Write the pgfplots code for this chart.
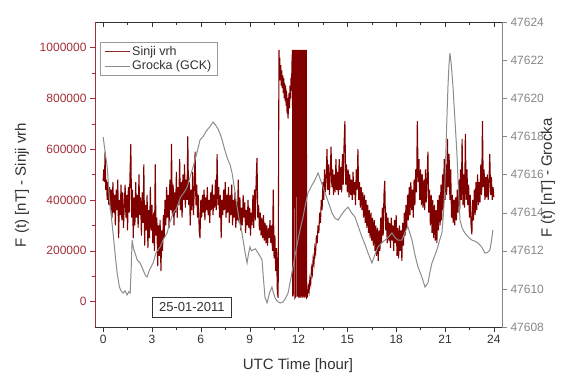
\documentclass[border=0pt]{standalone}
\usepackage{fontspec}
\setmainfont{Liberation Sans}
\usepackage{pgfplots}
\pgfplotsset{compat=1.18}
\definecolor{wine}{RGB}{128,0,0}
\definecolor{winelab}{RGB}{165,45,55}
\definecolor{gcol}{RGB}{140,140,140}
\definecolor{glab}{RGB}{135,135,135}
\definecolor{txt}{RGB}{50,50,50}
\begin{document}
\begin{tikzpicture}
\path[use as bounding box] (0,0) rectangle (566pt,373pt);
% top frame line
\begin{axis}[
  at={(95pt,46pt)}, anchor=south west, scale only axis, width=407pt, height=305pt,
  xmin=-0.5, xmax=24.5, ymin=0, ymax=1,
  axis x line*=top, axis y line=none,
  xtick={0,3,...,24}, minor x tick num=1, xticklabels={},
  tick align=inside, major tick length=5pt, minor tick length=3pt,
  x axis line style={-, txt}, xtick style={txt},
]
\end{axis}
% left axis: Sinji vrh
\begin{axis}[
  at={(95pt,46pt)}, anchor=south west, scale only axis, width=407pt, height=305pt,
  xmin=-0.5, xmax=24.5, ymin=-100000, ymax=1100000,
  axis x line*=bottom, axis y line*=left,
  xtick={0,3,...,24}, minor x tick num=1,
  ytick={0,200000,...,1000000}, minor y tick num=1,
  scaled y ticks=false,
  tick align=outside, major tick length=5pt, minor tick length=3pt,
  x axis line style={-, txt}, y axis line style={-, winelab},
  xtick style={txt}, ytick style={winelab},
  /pgf/number format/.cd, 1000 sep={}, fixed, assume math mode=true,
  /pgfplots/.cd,
  xticklabel style={text=txt, font=\fontsize{12}{14}\selectfont},
  yticklabel style={text=winelab, font=\fontsize{12}{14}\selectfont},
  xlabel={UTC Time [hour]},
  xlabel style={at={(axis description cs:0.4988,-0.1279)}, anchor=center, text=txt, font=\fontsize{15}{18}\selectfont},
  ylabel={F (t) [nT] - Sinji vrh},
  ylabel style={at={(axis description cs:-0.1794,0.4656)}, anchor=center, text=txt, font=\fontsize{15}{18}\selectfont},
]
\addplot[wine, line width=1.1pt] table[row sep=\\, x index=0, y expr=\thisrowno{1}*1000] {
0.00 475\\ 0.04 520\\ 0.08 470\\ 0.12 590\\ 0.16 440\\ 0.20 480\\
0.25 400\\ 0.30 470\\ 0.35 380\\ 0.40 450\\ 0.45 360\\ 0.50 440\\ 0.55 330\\ 0.60 470\\ 0.65 350\\ 0.70 420\\ 0.75 300\\ 0.80 440\\ 0.85 360\\ 0.90 480\\ 0.95 250\\ 1.00 400\\
1.05 340\\ 1.10 460\\ 1.15 320\\ 1.20 430\\ 1.25 290\\ 1.30 380\\ 1.35 460\\ 1.40 330\\ 1.45 420\\ 1.50 280\\ 1.55 450\\ 1.60 350\\ 1.65 500\\ 1.70 620\\ 1.75 330\\ 1.80 440\\ 1.85 250\\ 1.90 410\\
1.95 300\\ 2.00 470\\ 2.05 330\\ 2.10 420\\ 2.15 290\\ 2.20 500\\ 2.25 340\\ 2.30 410\\ 2.35 260\\ 2.40 430\\ 2.45 310\\ 2.50 540\\ 2.55 220\\ 2.60 380\\
2.65 280\\ 2.70 420\\ 2.75 210\\ 2.80 360\\ 2.85 250\\ 2.90 450\\ 2.95 280\\ 3.00 380\\ 3.05 230\\ 3.10 350\\ 3.15 200\\ 3.20 540\\ 3.25 260\\ 3.30 330\\ 3.35 140\\ 3.40 300\\ 3.45 180\\ 3.50 320\\ 3.55 120\\ 3.60 280\\ 3.65 200\\
3.70 340\\ 3.75 250\\ 3.80 400\\ 3.85 300\\ 3.90 450\\ 3.95 330\\ 4.00 420\\ 4.05 290\\ 4.10 480\\ 4.15 360\\ 4.20 620\\ 4.25 340\\ 4.30 460\\ 4.35 300\\ 4.40 430\\ 4.45 350\\ 4.50 510\\ 4.55 330\\ 4.60 450\\ 4.65 380\\ 4.70 560\\ 4.75 360\\ 4.80 470\\ 4.85 330\\ 4.90 500\\ 4.95 400\\ 5.00 540\\ 5.05 370\\ 5.10 480\\ 5.15 400\\ 5.20 650\\ 5.25 380\\ 5.30 470\\ 5.35 300\\ 5.40 440\\ 5.45 360\\ 5.50 510\\ 5.55 340\\ 5.60 450\\
5.65 590\\ 5.70 380\\ 5.75 460\\ 5.80 330\\ 5.85 420\\ 5.90 280\\ 5.95 250\\ 6.00 400\\
6.05 330\\ 6.10 420\\ 6.15 350\\ 6.20 440\\ 6.25 320\\ 6.30 410\\ 6.35 360\\ 6.40 450\\ 6.45 340\\ 6.50 400\\ 6.55 310\\ 6.60 430\\ 6.65 360\\ 6.70 460\\ 6.75 340\\ 6.80 420\\ 6.85 370\\ 6.90 480\\ 6.95 360\\ 7.00 580\\ 7.05 380\\ 7.10 450\\ 7.15 330\\ 7.20 420\\ 7.25 250\\ 7.30 400\\ 7.35 340\\ 7.40 440\\ 7.45 360\\ 7.50 470\\ 7.55 330\\ 7.60 420\\ 7.65 350\\ 7.70 450\\
7.75 310\\ 7.80 420\\ 7.85 340\\ 7.90 460\\ 7.95 300\\ 8.00 400\\ 8.05 330\\ 8.10 430\\ 8.15 290\\ 8.20 390\\ 8.25 320\\ 8.30 480\\ 8.35 310\\ 8.40 410\\ 8.45 280\\ 8.50 370\\ 8.55 300\\ 8.60 420\\ 8.65 330\\ 8.70 390\\ 8.75 270\\ 8.80 360\\ 8.85 300\\ 8.90 400\\ 8.95 290\\ 9.00 370\\ 9.05 260\\ 9.10 350\\ 9.15 300\\ 9.20 420\\ 9.25 290\\ 9.30 440\\ 9.35 320\\ 9.40 480\\ 9.45 565\\ 9.50 330\\
9.55 380\\ 9.60 280\\ 9.65 350\\ 9.70 260\\ 9.75 330\\ 9.80 250\\ 9.85 340\\ 9.90 240\\ 9.95 310\\ 10.00 230\\ 10.05 300\\ 10.10 220\\ 10.15 290\\ 10.20 250\\ 10.25 320\\ 10.30 230\\ 10.35 300\\ 10.40 200\\ 10.45 440\\ 10.50 170\\ 10.55 260\\ 10.60 120\\ 10.65 210\\ 10.70 40\\ 10.75 15\\
10.80 990\\ 10.82 900\\ 10.85 960\\ 10.88 870\\ 10.91 930\\ 10.94 850\\ 10.97 910\\ 11.00 840\\ 11.03 890\\ 11.06 820\\ 11.09 880\\ 11.12 800\\ 11.15 860\\ 11.18 790\\ 11.21 850\\ 11.24 770\\ 11.27 830\\ 11.30 740\\ 11.33 800\\ 11.36 720\\ 11.39 790\\ 11.42 820\\ 11.45 760\\ 11.48 850\\ 11.51 800\\ 11.54 880\\ 11.57 830\\ 11.60 940\\
11.63 990\\ 11.65 20\\ 11.68 30\\ 11.70 990\\ 11.73 900\\ 11.76 990\\ 11.78 15\\ 11.82 20\\ 11.84 990\\ 11.87 950\\ 11.90 990\\ 11.92 20\\ 11.95 990\\ 11.98 20\\ 12.00 990\\ 12.03 15\\ 12.06 990\\ 12.09 20\\ 12.12 990\\ 12.15 15\\ 12.18 990\\ 12.21 20\\ 12.24 990\\ 12.27 15\\ 12.30 990\\ 12.33 20\\ 12.36 990\\ 12.39 15\\ 12.42 990\\ 12.45 20\\ 12.48 990\\ 12.50 15\\ 12.55 20\\
12.60 60\\ 12.65 40\\ 12.70 90\\ 12.75 70\\ 12.80 130\\ 12.85 110\\ 12.90 170\\ 12.95 150\\ 13.00 210\\ 13.05 190\\ 13.10 260\\ 13.15 230\\ 13.20 300\\ 13.25 270\\ 13.30 350\\ 13.35 310\\ 13.40 400\\ 13.45 360\\ 13.50 470\\ 13.55 400\\ 13.60 520\\ 13.65 430\\ 13.70 480\\ 13.75 600\\ 13.80 440\\ 13.85 540\\ 13.90 420\\ 13.95 500\\ 14.00 610\\ 14.05 450\\ 14.10 520\\ 14.15 420\\ 14.20 500\\ 14.25 430\\ 14.30 560\\ 14.35 440\\ 14.40 510\\ 14.45 420\\ 14.50 560\\ 14.55 440\\ 14.60 530\\ 14.65 430\\ 14.70 580\\ 14.75 460\\ 14.80 620\\ 14.85 710\\ 14.90 460\\ 14.95 540\\ 15.00 430\\ 15.05 520\\ 15.10 410\\ 15.15 500\\ 15.20 420\\ 15.25 480\\ 15.30 400\\ 15.35 510\\ 15.40 420\\ 15.45 470\\ 15.50 380\\ 15.55 520\\ 15.60 440\\ 15.65 600\\ 15.70 400\\ 15.75 470\\ 15.80 370\\ 15.85 450\\ 15.90 360\\
15.95 430\\ 16.00 330\\ 16.05 420\\ 16.10 310\\ 16.15 400\\ 16.20 290\\ 16.25 380\\ 16.30 270\\ 16.35 360\\ 16.40 250\\ 16.45 350\\ 16.50 240\\ 16.55 330\\ 16.60 220\\ 16.65 320\\ 16.70 200\\ 16.75 300\\ 16.80 180\\ 16.85 290\\ 16.90 160\\ 16.95 280\\ 17.00 200\\ 17.05 330\\ 17.10 230\\ 17.15 370\\ 17.20 260\\ 17.25 420\\ 17.30 475\\ 17.35 280\\ 17.40 350\\ 17.45 230\\ 17.50 330\\ 17.55 240\\ 17.60 310\\ 17.65 210\\ 17.70 330\\ 17.75 240\\ 17.80 300\\ 17.85 200\\ 17.90 320\\ 17.95 230\\ 18.00 340\\ 18.05 180\\ 18.10 290\\ 18.15 170\\ 18.20 300\\ 18.25 200\\ 18.30 280\\ 18.35 160\\ 18.40 310\\ 18.45 220\\ 18.50 350\\
18.55 260\\ 18.60 380\\ 18.65 290\\ 18.70 420\\ 18.75 320\\ 18.80 450\\ 18.85 340\\ 18.90 470\\ 18.95 360\\ 19.00 440\\ 19.05 330\\ 19.10 480\\ 19.15 380\\ 19.20 520\\ 19.25 430\\ 19.30 710\\ 19.35 470\\
19.40 560\\ 19.45 400\\ 19.50 520\\ 19.55 380\\ 19.60 500\\ 19.65 370\\ 19.70 480\\ 19.75 360\\ 19.80 520\\ 19.85 390\\ 19.90 480\\ 19.95 590\\ 20.00 350\\
20.05 440\\ 20.10 300\\ 20.15 420\\ 20.20 270\\ 20.25 400\\ 20.30 250\\ 20.35 380\\ 20.40 240\\ 20.45 360\\ 20.50 230\\ 20.55 400\\ 20.60 280\\ 20.65 420\\ 20.70 300\\ 20.75 460\\ 20.80 320\\ 20.85 500\\ 20.90 360\\
20.95 560\\ 21.00 400\\ 21.05 540\\ 21.10 420\\ 21.15 640\\ 21.20 450\\ 21.25 580\\ 21.30 400\\ 21.35 520\\
21.40 330\\ 21.45 420\\ 21.50 310\\ 21.55 400\\ 21.60 300\\ 21.65 410\\ 21.70 320\\ 21.75 440\\ 21.80 350\\
21.85 480\\ 21.90 360\\ 21.95 520\\ 22.00 400\\ 22.05 640\\ 22.10 380\\ 22.15 500\\ 22.20 370\\ 22.25 660\\ 22.30 400\\ 22.35 520\\ 22.40 380\\
22.45 460\\ 22.50 330\\ 22.55 420\\ 22.60 300\\ 22.65 265\\ 22.70 400\\ 22.75 320\\ 22.80 440\\ 22.85 340\\ 22.90 470\\ 22.95 360\\
23.00 500\\ 23.05 380\\ 23.10 470\\ 23.15 390\\ 23.20 540\\ 23.25 420\\ 23.30 710\\ 23.35 450\\ 23.40 520\\ 23.45 400\\ 23.50 490\\ 23.55 410\\ 23.60 500\\ 23.65 400\\ 23.70 470\\ 23.75 580\\ 23.80 420\\ 23.85 490\\ 23.90 400\\ 23.95 450\\ 24.00 410\\
};
\end{axis}
% right axis: Grocka
\begin{axis}[
  at={(95pt,46pt)}, anchor=south west, scale only axis, width=407pt, height=305pt,
  xmin=-0.5, xmax=24.5, ymin=47608, ymax=47624,
  axis x line=none, axis y line*=right,
  ytick={47608,47610,...,47624}, minor y tick num=1,
  scaled y ticks=false,
  tick align=outside, major tick length=5pt, minor tick length=3pt,
  y axis line style={-, glab}, ytick style={glab},
  /pgf/number format/.cd, 1000 sep={}, fixed, assume math mode=true,
  /pgfplots/.cd,
  yticklabel style={text=glab, font=\fontsize{12}{14}\selectfont},
  ylabel={F (t) [nT] - Grocka},
  ylabel style={at={(axis description cs:1.113,0.4885)}, anchor=center, text=txt, font=\fontsize{15}{18}\selectfont},
  legend style={draw=gray!80, at={(axis description cs:0.0123,0.934)}, anchor=north west,
    font=\fontsize{12.5}{15}\selectfont, nodes={font=\fontsize{12.5}{15}\selectfont},
    inner xsep=4pt, inner ysep=2pt, row sep=0pt, text=txt},
  legend cell align=left,
  legend image code/.code={\draw[#1] (0pt,0pt) -- (25pt,0pt);},
]
\addlegendimage{wine!85!white, line width=1pt}
\addlegendentry{Sinji vrh}
\addplot[gcol, line width=1pt] table[row sep=\\] {
0.00 47617.97\\ 0.12 47617.2\\ 0.25 47616.39\\ 0.40 47614.6\\ 0.61 47612.93\\ 0.75 47611.7\\ 0.86 47610.83\\ 1.00 47610.1\\ 1.10 47609.9\\ 1.23 47609.78\\ 1.35 47609.9\\ 1.47 47609.68\\ 1.58 47609.85\\ 1.66 47609.78\\ 1.72 47611.0\\ 1.78 47612.56\\ 1.87 47612.1\\ 1.96 47611.88\\ 2.10 47611.5\\ 2.27 47611.36\\ 2.45 47611.0\\ 2.60 47610.7\\ 2.70 47610.62\\ 2.85 47611.0\\ 3.07 47611.36\\ 3.25 47611.9\\ 3.50 47612.20\\ 3.70 47612.6\\ 3.93 47612.93\\ 4.10 47613.5\\ 4.30 47613.98\\ 4.50 47614.2\\ 4.75 47614.8\\ 5.00 47615.1\\ 5.16 47615.34\\ 5.35 47615.9\\ 5.52 47616.39\\ 5.75 47617.1\\ 5.95 47617.81\\ 6.15 47618.0\\ 6.35 47618.3\\ 6.55 47618.5\\ 6.75 47618.75\\ 6.90 47618.6\\ 7.05 47618.4\\ 7.20 47618.1\\ 7.31 47617.81\\ 7.50 47617.2\\ 7.67 47616.76\\ 7.80 47616.5\\ 7.92 47616.08\\ 8.08 47615.2\\ 8.23 47614.29\\ 8.38 47613.5\\ 8.53 47612.93\\ 8.70 47612.0\\ 8.84 47611.36\\ 8.92 47611.8\\ 9.02 47612.20\\ 9.10 47612.0\\ 9.21 47612.04\\ 9.35 47612.1\\ 9.52 47611.88\\ 9.65 47611.7\\ 9.76 47611.51\\ 9.85 47610.5\\ 9.94 47609.57\\ 10.07 47609.26\\ 10.22 47609.8\\ 10.37 47610.10\\ 10.46 47609.8\\ 10.56 47609.52\\ 10.70 47609.35\\ 10.87 47609.26\\ 11.05 47609.31\\ 11.20 47609.5\\ 11.36 47609.78\\ 11.50 47610.4\\ 11.66 47611.15\\ 11.80 47611.8\\ 11.97 47612.56\\ 12.12 47613.2\\ 12.28 47613.77\\ 12.42 47614.4\\ 12.58 47615.03\\ 12.80 47615.4\\ 13.01 47615.71\\ 13.20 47616.08\\ 13.40 47615.6\\ 13.63 47615.03\\ 13.85 47614.5\\ 14.06 47613.98\\ 14.25 47613.7\\ 14.43 47613.61\\ 14.65 47613.9\\ 14.86 47614.14\\ 15.04 47614.29\\ 15.25 47614.0\\ 15.47 47613.77\\ 15.70 47613.2\\ 15.90 47612.72\\ 16.10 47612.3\\ 16.27 47611.88\\ 16.40 47611.6\\ 16.51 47611.36\\ 16.70 47611.8\\ 16.88 47612.20\\ 17.10 47612.4\\ 17.31 47612.56\\ 17.50 47612.7\\ 17.74 47612.93\\ 17.92 47612.7\\ 18.11 47612.56\\ 18.35 47612.56\\ 18.55 47613.0\\ 18.72 47613.25\\ 18.85 47612.9\\ 18.97 47612.56\\ 19.15 47611.8\\ 19.34 47611.15\\ 19.58 47610.62\\ 19.77 47610.10\\ 19.95 47610.31\\ 20.08 47610.9\\ 20.20 47611.36\\ 20.35 47611.7\\ 20.50 47612.04\\ 20.65 47612.5\\ 20.81 47612.93\\ 20.90 47613.9\\ 20.99 47615.34\\ 21.08 47618.0\\ 21.18 47620.59\\ 21.24 47621.7\\ 21.30 47622.37\\ 21.38 47621.8\\ 21.49 47620.59\\ 21.60 47619.0\\ 21.73 47617.13\\ 21.82 47615.3\\ 21.92 47613.61\\ 22.05 47613.2\\ 22.22 47612.93\\ 22.45 47612.7\\ 22.65 47612.56\\ 22.85 47612.5\\ 23.02 47612.41\\ 23.25 47612.2\\ 23.45 47611.88\\ 23.60 47611.9\\ 23.76 47612.04\\ 23.85 47612.5\\ 23.94 47613.09\\
};
\addlegendentry{Grocka (GCK)}
\node[draw=txt, fill=white, text=txt, font=\fontsize{13}{15}\selectfont, inner xsep=7pt, inner ysep=5.5pt] at (axis description cs:0.238,0.0656) {25-01-2011};
\end{axis}
\end{tikzpicture}
\end{document}
